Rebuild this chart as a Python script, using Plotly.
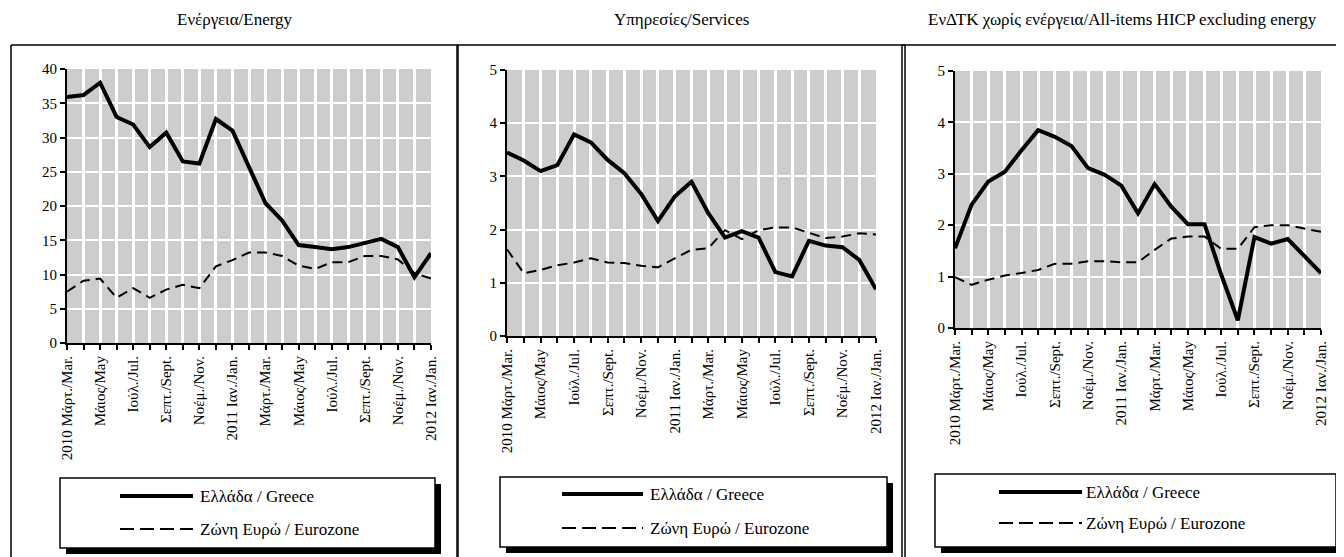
import plotly.graph_objects as go

OFF = 8                      # page body margin in the browser
W, H = 1344 - OFF, 557 - OFF

months = ["2010 Μάρτ./Mar.", "Απρ./Apr.", "Μάιος/May", "Ιούν./Jun.", "Ιούλ./Jul.",
          "Αύγ./Aug.", "Σεπτ./Sept.", "Οκτ./Oct.", "Νοέμ./Nov.", "Δεκ./Dec.",
          "2011 Ιαν./Jan.", "Φεβρ./Feb.", "Μάρτ./Mar.", "Απρ./Apr.", "Μάιος/May",
          "Ιούν./Jun.", "Ιούλ./Jul.", "Αύγ./Aug.", "Σεπτ./Sept.", "Οκτ./Oct.",
          "Νοέμ./Nov.", "Δεκ./Dec.", "2012 Ιαν./Jan."]
tick_labels = [m if i % 2 == 0 else "" for i, m in enumerate(months)]

titles = ["Ενέργεια/Energy", "Υπηρεσίες/Services",
          "ΕνΔΤΚ χωρίς ενέργεια/All-items HICP excluding energy"]

energy_greece = [35.9, 36.2, 38.0, 33.0, 31.9, 28.6, 30.7, 26.5, 26.2, 32.7, 31.0, 25.8,
                 20.4, 17.9, 14.3, 14.0, 13.7, 14.0, 14.6, 15.2, 14.0, 9.6, 13.1]
energy_euro = [7.5, 9.1, 9.4, 6.6, 8.0, 6.6, 7.8, 8.5, 8.0, 11.2, 12.1, 13.2,
               13.2, 12.7, 11.3, 10.8, 11.8, 11.8, 12.7, 12.7, 12.2, 10.2, 9.4]

services_greece = [3.45, 3.30, 3.10, 3.21, 3.79, 3.64, 3.31, 3.06, 2.67, 2.16, 2.62, 2.90,
                   2.31, 1.85, 1.97, 1.85, 1.20, 1.12, 1.79, 1.70, 1.67, 1.43, 0.88]
services_euro = [1.63, 1.18, 1.24, 1.33, 1.38, 1.46, 1.38, 1.37, 1.32, 1.29, 1.46, 1.62,
                 1.65, 1.99, 1.82, 1.99, 2.04, 2.04, 1.94, 1.84, 1.87, 1.93, 1.91]

exen_greece = [1.55, 2.40, 2.85, 3.04, 3.46, 3.85, 3.72, 3.54, 3.11, 2.98, 2.77, 2.23,
               2.80, 2.36, 2.02, 2.02, 1.04, 0.15, 1.77, 1.64, 1.73, 1.41, 1.07]
exen_euro = [0.99, 0.84, 0.94, 1.02, 1.07, 1.13, 1.25, 1.25, 1.30, 1.30, 1.28, 1.28,
             1.52, 1.74, 1.78, 1.78, 1.54, 1.54, 1.96, 2.00, 2.00, 1.94, 1.87]

legend_names = ["Ελλάδα / Greece", "Ζώνη Ευρώ / Eurozone"]

FONT = "Liberation Serif"
x = list(range(len(months)))

def px(v):
    return (v - OFF) / W

def py(v):
    return 1 - (v - OFF) / H

# plot areas in screen pixels: (left, right, top, bottom)
areas = [(67, 431, 69, 343), (507, 876, 70, 336), (955, 1321, 71, 328)]
yranges = [(0, 40, 5), (0, 5, 1), (0, 5, 1)]
data = [(energy_greece, energy_euro), (services_greece, services_euro), (exen_greece, exen_euro)]
boxes = [(11, 458), (457, 905), (902, 1342)]
legends = [
    dict(box=(60, 435, 478, 548), line=(120, 193), ys=(496, 529), tx=198),
    dict(box=(500, 887, 477, 547), line=(562, 643), ys=(494, 528), tx=648),
    dict(box=(935, 1336, 474, 547), line=(999, 1082), ys=(492, 523), tx=1084),
]

fig = go.Figure()
shapes = []
annotations = []
layout = dict(width=W, height=H, margin=dict(l=0, r=0, t=0, b=0, pad=0), autosize=False,
              paper_bgcolor="white", plot_bgcolor="#cdcdcd", showlegend=False,
              font=dict(family=FONT, color="black"))

for i in range(3):
    sfx = "" if i == 0 else str(i + 1)
    xa, ya = "x" + sfx, "y" + sfx
    g, e = data[i]
    fig.add_trace(go.Scatter(x=x, y=g, mode="lines", name=legend_names[0],
                             line=dict(color="black", width=4), xaxis=xa, yaxis=ya))
    fig.add_trace(go.Scatter(x=x, y=e, mode="lines", name=legend_names[1],
                             line=dict(color="black", width=2, dash="10px,6px"),
                             xaxis=xa, yaxis=ya))
    l, r, t, b = areas[i]
    y0, y1, dt = yranges[i]
    layout["xaxis" + sfx] = dict(domain=[px(l), px(r)], anchor=ya, range=[0, len(months) - 1],
                                 tickmode="array", tickvals=x, ticktext=tick_labels,
                                 tickangle=-90, ticks="outside", ticklen=5, tickwidth=1.5,
                                 tickcolor="black", showline=True, linecolor="black",
                                 linewidth=2, showgrid=True, gridcolor="white", gridwidth=3,
                                 zeroline=False, automargin=False,
                                 tickfont=dict(family=FONT, size=15))
    layout["yaxis" + sfx] = dict(domain=[py(b), py(t)], anchor=xa, range=[y0, y1], dtick=dt,
                                 ticks="outside", ticklen=5, tickwidth=1.5, tickcolor="black",
                                 showline=True, linecolor="black", linewidth=2,
                                 showgrid=True, gridcolor="white", gridwidth=2, zeroline=False,
                                 automargin=False, tickfont=dict(family=FONT, size=15))
    # panel frame
    bl, br = boxes[i]
    for (xa0, ya0, xa1, ya1) in [(bl, 45, br, 45), (bl, 45, bl, 557), (br, 45, br, 557)]:
        shapes.append(dict(type="line", xref="paper", yref="paper",
                           x0=px(xa0), y0=py(ya0), x1=px(xa1), y1=py(ya1),
                           line=dict(color="black", width=1.5)))
    # title
    annotations.append(dict(text=titles[i], xref="paper", yref="paper",
                            x=px((bl + br) / 2), y=1, xanchor="center", yanchor="top",
                            showarrow=False, font=dict(family=FONT, size=17)))
    # legend box with shadow
    lg = legends[i]
    lx0, lx1, ly0, ly1 = lg["box"]
    shapes.append(dict(type="rect", xref="paper", yref="paper",
                       x0=px(lx0 + 6), x1=px(lx1 + 6), y0=py(ly1 + 6), y1=py(ly0 + 6),
                       fillcolor="black", line=dict(width=0)))
    shapes.append(dict(type="rect", xref="paper", yref="paper",
                       x0=px(lx0), x1=px(lx1), y0=py(ly1), y1=py(ly0),
                       fillcolor="white", line=dict(color="black", width=1.5)))
    sx0, sx1 = lg["line"]
    for k, (w, d) in enumerate([(4, "solid"), (2, "14px,6px")]):
        shapes.append(dict(type="line", xref="paper", yref="paper",
                           x0=px(sx0), x1=px(sx1), y0=py(lg["ys"][k]), y1=py(lg["ys"][k]),
                           line=dict(color="black", width=w, dash=d)))
        annotations.append(dict(text=legend_names[k], xref="paper", yref="paper",
                                x=px(lg["tx"]), y=py(lg["ys"][k]), xanchor="left",
                                yanchor="middle", showarrow=False,
                                font=dict(family=FONT, size=17)))

layout["shapes"] = shapes
layout["annotations"] = annotations
fig.update_layout(**layout)
fig.write_html("out.html")
